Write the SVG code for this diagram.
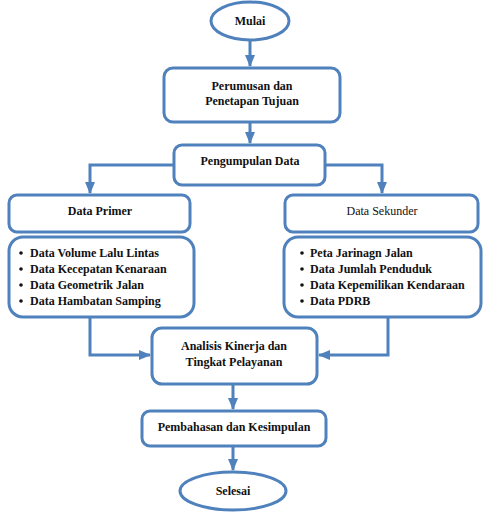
<svg xmlns="http://www.w3.org/2000/svg" width="486" height="513" viewBox="0 0 486 513">
<style>
.n{fill:#fff;stroke:#4f81bd;stroke-width:3}
.c{fill:none;stroke:#4f81bd;stroke-width:3;stroke-linejoin:miter}
.t text{font-size:12px;font-weight:bold;fill:#111}
.m{text-anchor:middle}
.t .r{font-weight:normal}
</style>
<defs>
<marker id="a" markerUnits="userSpaceOnUse" markerWidth="12" markerHeight="10" viewBox="0 0 12 10" refX="11" refY="5" orient="auto">
<path d="M0,0L12,5L0,10z" fill="#4f81bd"/>
</marker>
</defs>
<g id="connectors">
<path class="c" d="M250,40V66" marker-end="url(#a)"/>
<path class="c" d="M250,122V143" marker-end="url(#a)"/>
<path class="c" d="M173,165H90V193" marker-end="url(#a)"/>
<path class="c" d="M325,165H382V193" marker-end="url(#a)"/>
<path class="c" d="M90,317V355H150" marker-end="url(#a)"/>
<path class="c" d="M388,317V355H319" marker-end="url(#a)"/>
<path class="c" d="M233,384V409" marker-end="url(#a)"/>
<path class="c" d="M233,446V470" marker-end="url(#a)"/>
</g>
<g class="t" font-family="'Liberation Serif', 'Times New Roman', 'DejaVu Serif', serif">
<g id="mulai"><ellipse class="n" cx="250" cy="21" rx="39" ry="19"/><text class="m" x="250" y="25">Mulai</text></g>
<g id="perumusan"><rect class="n" x="164" y="68" width="176" height="54" rx="9"/><text class="m" x="252" y="90">Perumusan dan</text><text class="m" x="252" y="105">Penetapan Tujuan</text></g>
<g id="pengumpulan"><rect class="n" x="174" y="145" width="151" height="40" rx="8"/><text class="m" x="250" y="165">Pengumpulan Data</text></g>
<g id="primer"><rect class="n" x="9" y="195" width="181" height="37" rx="8"/><text class="m" x="100" y="215">Data Primer</text></g>
<g id="primer-list"><rect class="n" x="9" y="237" width="185" height="80" rx="14"/>
<circle cx="21" cy="253" r="1.8" fill="#111"/><circle cx="21" cy="269" r="1.8" fill="#111"/><circle cx="21" cy="285" r="1.8" fill="#111"/><circle cx="21" cy="301" r="1.8" fill="#111"/>
<text x="30" y="257">Data Volume Lalu Lintas</text><text x="30" y="273">Data Kecepatan Kenaraan</text><text x="30" y="289">Data Geometrik Jalan</text><text x="30" y="305">Data Hambatan Samping</text></g>
<g id="sekunder"><rect class="n" x="285" y="195" width="193" height="37" rx="8"/><text class="m r" x="382" y="215">Data Sekunder</text></g>
<g id="sekunder-list"><rect class="n" x="284" y="237" width="197" height="80" rx="14"/>
<circle cx="302" cy="253" r="1.8" fill="#111"/><circle cx="302" cy="269" r="1.8" fill="#111"/><circle cx="302" cy="285" r="1.8" fill="#111"/><circle cx="302" cy="301" r="1.8" fill="#111"/>
<text x="310" y="257">Peta Jarinagn Jalan</text><text x="310" y="273">Data Jumlah Penduduk</text><text x="310" y="289">Data Kepemilikan Kendaraan</text><text x="310" y="305">Data PDRB</text></g>
<g id="analisis"><rect class="n" x="152" y="328" width="165" height="56" rx="10"/><text class="m" x="234" y="350">Analisis Kinerja dan</text><text class="m" x="234" y="366">Tingkat Pelayanan</text></g>
<g id="pembahasan"><rect class="n" x="142" y="411" width="184" height="35" rx="8"/><text class="m" x="234" y="431">Pembahasan dan Kesimpulan</text></g>
<g id="selesai"><ellipse class="n" cx="233" cy="491" rx="53" ry="19"/><text class="m" x="233" y="495">Selesai</text></g>
</g>
</svg>
